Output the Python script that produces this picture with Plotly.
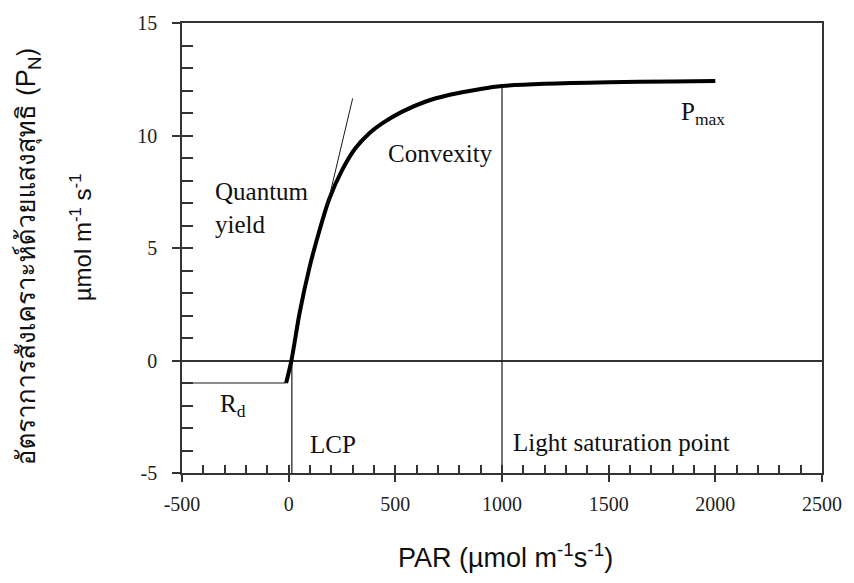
import numpy as np
import plotly.graph_objects as go

# ---- data ----
PAR = [-12, 13, 51, 98, 145, 191, 250, 310, 378, 440, 530, 640, 750, 900, 1000, 1200, 1500, 1800, 2000]
PN = [-1.0, 0.0, 2.1, 4.15, 5.8, 7.2, 8.45, 9.4, 10.1, 10.55, 11.05, 11.5, 11.8, 12.07, 12.2, 12.3, 12.37, 12.4, 12.42]
RD = -1.0            # dark respiration level
LCP = 15             # light compensation point
LSP = 1000           # light saturation point
TANGENT_X = [180, 300]
TANGENT_Y = [6.86, 11.65]
X_RANGE = [-500, 2500]
Y_RANGE = [-5, 15]
X_TICKS = [-500, 0, 500, 1000, 1500, 2000, 2500]
X_TICKTEXT = ["-500", "0", "500", "1000", "1500", "2000", "2500"]
Y_TICKS = [-5, 0, 5, 10, 15]
Y_TICKTEXT = ["-5", "0", "5", "10", "15"]

SERIF = "Liberation Serif, Times New Roman, serif"
SANS = "Liberation Sans, Arial, sans-serif"
THAI = "Loma, Garuda, Waree, Sawasdee, Noto Sans Thai, Noto Sans, DejaVu Sans, sans-serif"
AX = "#333333"
LINE = "#1a1a1a"

fig = go.Figure()

# Rd horizontal line
fig.add_trace(go.Scatter(x=[X_RANGE[0], PAR[0]], y=[RD, RD], mode="lines",
                         line=dict(color=LINE, width=1.2), hoverinfo="skip", showlegend=False))
# LCP vertical line
fig.add_trace(go.Scatter(x=[LCP, LCP], y=[Y_RANGE[0], float(np.interp(LCP, PAR, PN))], mode="lines",
                         line=dict(color=LINE, width=1.2), hoverinfo="skip", showlegend=False))
# Light saturation vertical line
fig.add_trace(go.Scatter(x=[LSP, LSP], y=[Y_RANGE[0], float(np.interp(LSP, PAR, PN))], mode="lines",
                         line=dict(color=LINE, width=1.2), hoverinfo="skip", showlegend=False))
# Quantum yield tangent (on overlay axes so they render)
fig.add_trace(go.Scatter(x=TANGENT_X, y=TANGENT_Y, mode="lines", xaxis="x2", yaxis="y2",
                         line=dict(color=LINE, width=1), hoverinfo="skip", showlegend=False))
# light response curve
fig.add_trace(go.Scatter(x=PAR, y=PN, mode="lines",
                         line=dict(color="black", width=4, shape="spline", smoothing=0.8),
                         hoverinfo="skip", showlegend=False))

common = dict(showgrid=False, color=AX)
fig.update_layout(
    width=854, height=583,
    margin=dict(l=182, r=31, t=21, b=110),
    paper_bgcolor="white", plot_bgcolor="white",
    xaxis=dict(range=X_RANGE, tickvals=X_TICKS, ticktext=X_TICKTEXT, ticks="outside", ticklen=7,
               tickwidth=1.5, tickcolor=AX, showline=True, linecolor=AX, linewidth=1.5, mirror=True,
               zeroline=False, ticklabelstandoff=5,
               tickfont=dict(family=SERIF, size=20, color="#222"), **common),
    yaxis=dict(range=Y_RANGE, tickvals=Y_TICKS, ticktext=Y_TICKTEXT, ticks="outside", ticklen=8,
               tickwidth=1.5, tickcolor=AX, showline=True, linecolor=AX, linewidth=1.5, mirror=True,
               zeroline=True, zerolinecolor=AX, zerolinewidth=1.5, ticklabelstandoff=11,
               tickfont=dict(family=SERIF, size=20, color="#222"), **common),
    xaxis2=dict(range=X_RANGE, overlaying="x", anchor="y", side="bottom", tickmode="linear",
                tick0=-500, dtick=100, ticks="inside", ticklen=8, tickwidth=1.5, tickcolor=AX,
                showticklabels=False, showline=False, zeroline=False, **common),
    yaxis2=dict(range=Y_RANGE, overlaying="y", anchor="x", side="left", tickmode="linear",
                tick0=-5, dtick=1, ticks="inside", ticklen=11, tickwidth=1.5, tickcolor=AX,
                showticklabels=False, showline=False, zeroline=False, **common),
)

ann_font = dict(family=SERIF, size=25, color="#111")
fig.add_annotation(x=-354, y=6.8, text="Quantum<br>yield", showarrow=False, xanchor="left",
                   yanchor="middle", align="left", font=ann_font)
fig.add_annotation(x=712, y=9.2, text="Convexity", showarrow=False, xanchor="center",
                   yanchor="middle", font=ann_font)
fig.add_annotation(x=1831, y=11.0, text="P<sub>max</sub>", showarrow=False, xanchor="left",
                   yanchor="middle", font=ann_font)
fig.add_annotation(x=-331, y=-2.0, text="R<sub>d</sub>", showarrow=False, xanchor="left",
                   yanchor="middle", font=ann_font)
fig.add_annotation(x=89, y=-3.75, text="LCP", showarrow=False, xanchor="left",
                   yanchor="middle", font=ann_font)
fig.add_annotation(x=1040, y=-3.65, text="Light saturation point", showarrow=False, xanchor="left",
                   yanchor="middle", font=ann_font)

fig.add_annotation(xref="paper", yref="paper", x=(506 - 182) / 641, y=(473 - 556) / 452,
                   text="PAR (µmol m<sup>-1</sup>s<sup>-1</sup>)", showarrow=False,
                   xanchor="center", yanchor="middle",
                   font=dict(family=SANS, size=27, color="#111"))
fig.add_annotation(xref="paper", yref="paper", x=(27 - 182) / 641, y=(473 - 256) / 452,
                   text="อัตราการสังเคราะห์ด้วยแสงสุทธิ (P<sub>N</sub>)", textangle=-90,
                   showarrow=False, xanchor="center", yanchor="middle",
                   font=dict(family=THAI, size=26, color="#111"))
fig.add_annotation(xref="paper", yref="paper", x=(81 - 182) / 641, y=(473 - 236) / 452,
                   text="µmol m<sup>-1</sup> s<sup>-1</sup>", textangle=-90,
                   showarrow=False, xanchor="center", yanchor="middle",
                   font=dict(family=SANS, size=24, color="#111"))

fig.write_html("out.html")
